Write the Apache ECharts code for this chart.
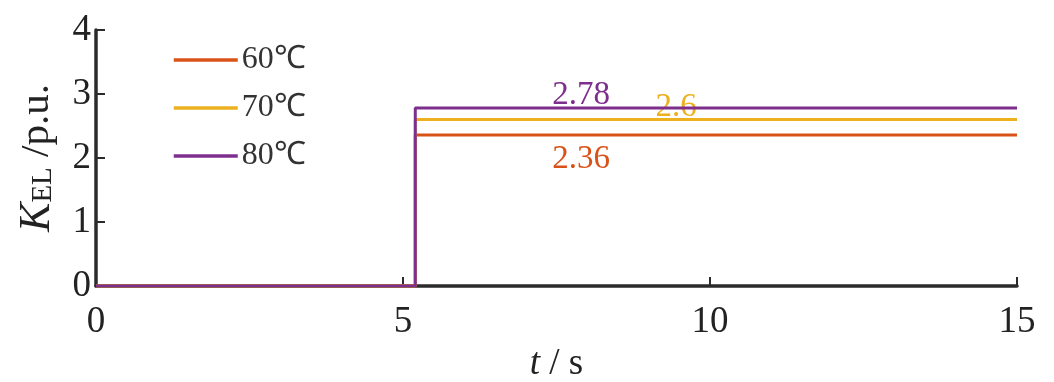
<!DOCTYPE html>
<html><head><meta charset="utf-8">
<script src="https://cdn.jsdelivr.net/npm/echarts@6/dist/echarts.min.js"></script>
<style>html,body{margin:0;padding:0;background:#fff}#c{width:1054px;height:382px}</style>
</head><body><div id="c"></div>
<script>
const seriesNames = ['60℃', '70℃', '80℃'];
const stepTime = 5.2;
const startTime = 0;
const endTime = 15;
const levels = [2.36, 2.6, 2.78];
const colors = ['#D95319', '#EDB120', '#7E2F8E'];
const labelTexts = ['2.36', '2.6', '2.78'];
const labelCoords = [[7.9, 1.98], [9.45, 2.79], [7.9, 2.98]];
const xTicks = [0, 5, 10, 15];
const yTicks = [0, 1, 2, 3, 4];

const font = "'Liberation Serif', 'Times New Roman', serif";
const chart = echarts.init(document.getElementById('c'));
const series = seriesNames.map((n, i) => ({
  name: n, type: 'line', showSymbol: false, symbol: 'none',
  data: [[startTime, 0], [stepTime, 0], [stepTime, levels[i]], [endTime, levels[i]]],
  lineStyle: { color: colors[i], width: 3 }, itemStyle: { color: colors[i] },
  z: 3 + i,
  markPoint: {
    symbol: 'circle', symbolSize: 0,
    data: [{ coord: labelCoords[i], value: labelTexts[i] }],
    label: { show: true, position: 'inside', formatter: labelTexts[i], color: colors[i], fontFamily: font, fontSize: 33 }
  }
}));
chart.setOption({
  animation: false,
  grid: { left: 96, right: 37, top: 30, bottom: 96, outerBoundsMode: 'none', containLabel: false },
  legend: {
    orient: 'vertical', left: 167, top: 39, itemWidth: 64, itemHeight: 30, itemGap: 16,
    data: seriesNames,
    itemStyle: { opacity: 0 },
    lineStyle: { width: 3.5 },
    textStyle: { fontFamily: font, fontSize: 32, color: '#333', padding: [0, 0, 0, -1] }
  },
  xAxis: {
    type: 'value', min: xTicks[0], max: xTicks[xTicks.length - 1], interval: 5,
    axisLine: { lineStyle: { color: '#2b2b2b', width: 3.5 } },
    axisTick: { inside: true, length: 9, lineStyle: { color: '#2b2b2b', width: 2 } },
    splitLine: { show: false },
    axisLabel: { fontFamily: font, fontSize: 37, color: '#222', margin: 18 },
    name: '{i|t} / s', nameLocation: 'middle', nameGap: 52,
    nameTextStyle: { fontFamily: font, fontSize: 37, color: '#222', verticalAlign: 'middle', lineHeight: 37,
      rich: { i: { fontFamily: font, fontStyle: 'italic', fontSize: 37, color: '#222', lineHeight: 37 } } }
  },
  yAxis: {
    type: 'value', min: yTicks[0], max: yTicks[yTicks.length - 1], interval: 1,
    axisLine: { show: true, lineStyle: { color: '#2b2b2b', width: 3.5 } },
    axisTick: { show: true, inside: true, length: 9, lineStyle: { color: '#2b2b2b', width: 2 } },
    splitLine: { show: false },
    axisLabel: { fontFamily: font, fontSize: 37, color: '#222', margin: 5 },
    name: '{k|K}{s|EL} /p.u.', nameLocation: 'middle', nameGap: 37, nameRotate: 90,
    nameTextStyle: { fontFamily: font, fontSize: 41, color: '#222',
      rich: {
        k: { fontFamily: font, fontStyle: 'italic', fontSize: 44, color: '#222' },
        s: { fontFamily: font, fontSize: 29, color: '#222', padding: [13, 0, 0, 0] }
      } }
  },
  series: series
});
</script></body></html>
